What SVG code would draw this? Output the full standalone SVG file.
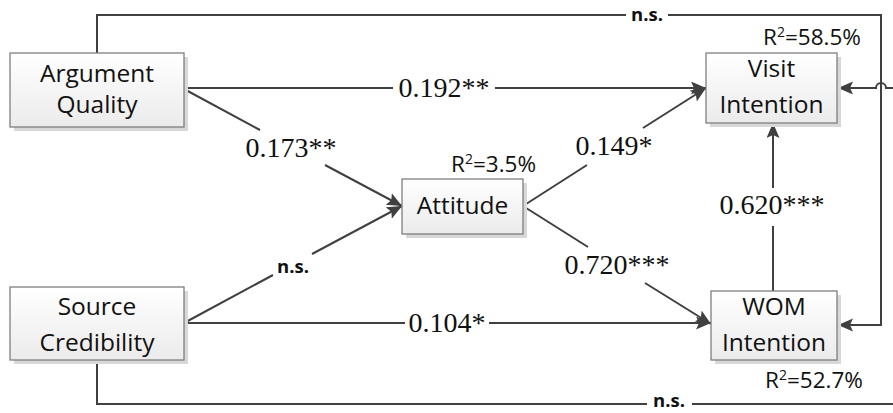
<svg xmlns="http://www.w3.org/2000/svg" width="893" height="413" viewBox="0 0 893 413">
<defs>
<linearGradient id="boxg" x1="0" y1="0" x2="0" y2="1">
<stop offset="0" stop-color="#ffffff"/>
<stop offset="1" stop-color="#ebebeb"/>
</linearGradient>
<marker id="arr" markerUnits="userSpaceOnUse" markerWidth="16" markerHeight="14" refX="15" refY="6.5" orient="auto">
<path d="M0,0 L15,6.5 L0,13 L3,6.5 z" fill="#404040"/>
</marker>
</defs>
<style>
.shadow{fill:#d8d8d8}
.box{fill:url(#boxg);stroke:#7f7f7f;stroke-width:1.3}
.lbl{font-family:"Open Sans","Noto Sans",sans-serif;font-size:24.5px;fill:#111;text-anchor:middle}
.r2{font-family:"Open Sans","Noto Sans",sans-serif;font-size:22.5px;fill:#111}
.sup{font-size:14px}
.num{font-family:"Liberation Serif","Times New Roman",serif;font-size:28px;fill:#111;text-anchor:middle}
.ns{font-family:"Open Sans","Noto Sans",sans-serif;font-size:18.5px;font-weight:bold;fill:#111;text-anchor:middle}
.ln{fill:none;stroke:#404040;stroke-width:2}
</style>
<rect width="893" height="413" fill="#ffffff"/>
<g id="connectors">
<path class="ln" d="M97,53 V15 H626 M668,15 H881 V325 H838" marker-end="url(#arr)"/>
<path class="ln" d="M97,360 V404 H647 M692,404 H893"/>
<path class="ln" d="M893,88 H886 A5,5 0 0 0 876,88 H838" marker-end="url(#arr)"/>
<path class="ln" d="M184,88 H393 M495,88 H706" marker-end="url(#arr)"/>
<path class="ln" d="M184,89 L260,130 M325,165 L402,206" marker-end="url(#arr)"/>
<path class="ln" d="M184,323 L273,275 M312,254 L402,206" marker-end="url(#arr)"/>
<path class="ln" d="M184,323 H405 M489,323 H711" marker-end="url(#arr)"/>
<path class="ln" d="M523,206 L587,165 M643,128 L706,88" marker-end="url(#arr)"/>
<path class="ln" d="M523,206 L588,247 M645,283 L711,324" marker-end="url(#arr)"/>
<path class="ln" d="M773,291 V226 M773,188 V123" marker-end="url(#arr)"/>
<text class="num" x="291" y="157">0.173**</text>
<text class="num" x="444" y="97">0.192**</text>
<text class="num" x="614" y="155">0.149*</text>
<text class="num" x="617" y="274">0.720***</text>
<text class="num" x="447" y="332">0.104*</text>
<text class="num" x="772" y="214">0.620***</text>
<text class="ns" x="647" y="21">n.s.</text>
<text class="ns" x="669" y="406.5">n.s.</text>
<text class="ns" x="293" y="273">n.s.</text>
</g>
<g id="argument-quality">
<rect class="shadow" x="14" y="57" width="174" height="74"/>
<rect class="box" x="10" y="53" width="174" height="74"/>
<text class="lbl" x="97" y="82">Argument</text>
<text class="lbl" x="97" y="113">Quality</text>
</g>
<g id="source-credibility">
<rect class="shadow" x="14" y="291" width="174" height="73"/>
<rect class="box" x="10" y="287" width="174" height="73"/>
<text class="lbl" x="97" y="315">Source</text>
<text class="lbl" x="97" y="351">Credibility</text>
</g>
<g id="attitude">
<rect class="shadow" x="406" y="183" width="121" height="55"/>
<rect class="box" x="402" y="179" width="121" height="55"/>
<text class="lbl" x="462.5" y="214">Attitude</text>
<text class="r2" x="451" y="172">R<tspan class="sup" dy="-8">2</tspan><tspan dy="8">=3.5%</tspan></text>
</g>
<g id="visit-intention">
<rect class="shadow" x="710" y="57" width="131" height="70"/>
<rect class="box" x="706" y="53" width="131" height="70"/>
<text class="lbl" x="771.5" y="77">Visit</text>
<text class="lbl" x="771.5" y="113">Intention</text>
<text class="r2" x="763" y="45">R<tspan class="sup" dy="-8">2</tspan><tspan dy="8">=58.5%</tspan></text>
</g>
<g id="wom-intention">
<rect class="shadow" x="715" y="295" width="126" height="69"/>
<rect class="box" x="711" y="291" width="126" height="69"/>
<text class="lbl" x="774" y="315">WOM</text>
<text class="lbl" x="774" y="351">Intention</text>
<text class="r2" x="765" y="388">R<tspan class="sup" dy="-8">2</tspan><tspan dy="8">=52.7%</tspan></text>
</g>
</svg>
